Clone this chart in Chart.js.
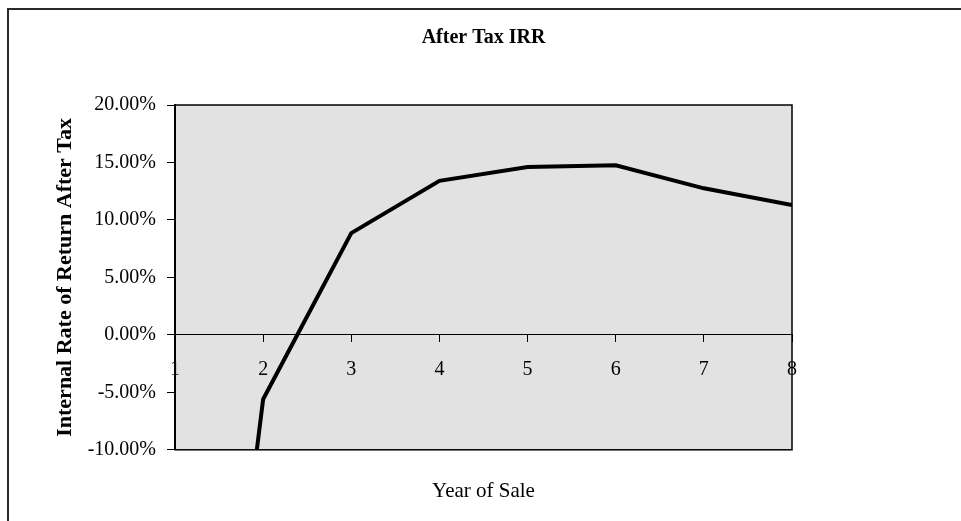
<!DOCTYPE html>
<html>
<head>
<meta charset="utf-8">
<script src="https://cdn.jsdelivr.net/npm/chart.js@4/dist/chart.umd.min.js"></script>
<style>
  html, body { margin: 0; padding: 0; background: #fff; overflow: hidden; }
  #frame {
    position: absolute;
    left: 7px;
    top: 8px;
    width: 1100px;
    height: 700px;
    border: 2px solid #2a2a2a;
  }
  #irrChart { position: absolute; left: 0; top: 0; }
</style>
</head>
<body>
<div id="frame"></div>
<canvas id="irrChart" width="961" height="521"></canvas>
<script>
const yearsOfSale = ["1", "2", "3", "4", "5", "6", "7", "8"];
const irrAfterTax = [-67, -5.6, 8.85, 13.4, 14.6, 14.75, 12.75, 11.3];
const yMin = -10;
const yMax = 20;
const yStep = 5;

const serif = "'Liberation Serif', 'Times New Roman', serif";

const plotBackground = {
  id: "plotBackground",
  beforeDraw(chart) {
    const { ctx, chartArea } = chart;
    ctx.save();
    ctx.fillStyle = "#e2e2e2";
    ctx.fillRect(chartArea.left, chartArea.top, chartArea.width, chartArea.height);
    ctx.restore();
  },
  beforeDatasetsDraw(chart) {
    const { ctx, chartArea } = chart;
    ctx.save();
    ctx.strokeStyle = "#000";
    ctx.lineWidth = 1.5;
    ctx.strokeRect(chartArea.left, chartArea.top, chartArea.width, chartArea.height);
    ctx.restore();
  }
};

const ctx = document.getElementById("irrChart");

new Chart(ctx, {
  type: "line",
  data: {
    labels: yearsOfSale,
    datasets: [
      {
        label: "After Tax IRR",
        data: irrAfterTax,
        borderColor: "#000",
        borderWidth: 4,
        pointRadius: 0,
        tension: 0,
        clip: 0
      }
    ]
  },
  options: {
    responsive: false,
    animation: false,
    devicePixelRatio: 1,
    layout: {
      padding: { left: 40, right: 169, top: 0, bottom: 0 }
    },
    plugins: {
      legend: { display: false },
      tooltip: { enabled: false },
      title: {
        display: true,
        text: "After Tax IRR",
        color: "#000",
        fullSize: false,
        font: { family: serif, size: 20, weight: "bold" },
        padding: { top: 26, bottom: 55 }
      },
      subtitle: {
        display: true,
        position: "bottom",
        text: "Year of Sale",
        color: "#000",
        fullSize: false,
        font: { family: serif, size: 21, weight: "normal" },
        padding: { top: 29, bottom: 17 }
      }
    },
    scales: {
      x: {
        type: "category",
        offset: false,
        position: { y: 0 },
        afterFit: scale => { scale.height = 0; },
        grid: {
          drawOnChartArea: false,
          drawTicks: true,
          tickLength: 7,
          color: "#000"
        },
        border: { display: true, color: "#000", width: 1 },
        ticks: {
          color: "#000",
          font: { family: serif, size: 20 },
          padding: 16,
          maxRotation: 0,
          autoSkip: false
        }
      },
      y: {
        min: yMin,
        max: yMax,
        afterFit: scale => { scale.width = 135; },
        grid: {
          drawOnChartArea: false,
          drawTicks: true,
          tickLength: 8,
          color: "#000"
        },
        border: { display: true, color: "#000", width: 2 },
        ticks: {
          stepSize: yStep,
          color: "#000",
          font: { family: serif, size: 20 },
          padding: 11,
          callback: value => value.toFixed(2) + "%"
        },
        title: {
          display: true,
          text: "Internal Rate of Return After Tax",
          color: "#000",
          font: { family: serif, size: 22, weight: "bold" },
          padding: { top: 12, bottom: 0 }
        }
      }
    }
  },
  plugins: [plotBackground]
});
</script>
</body>
</html>
